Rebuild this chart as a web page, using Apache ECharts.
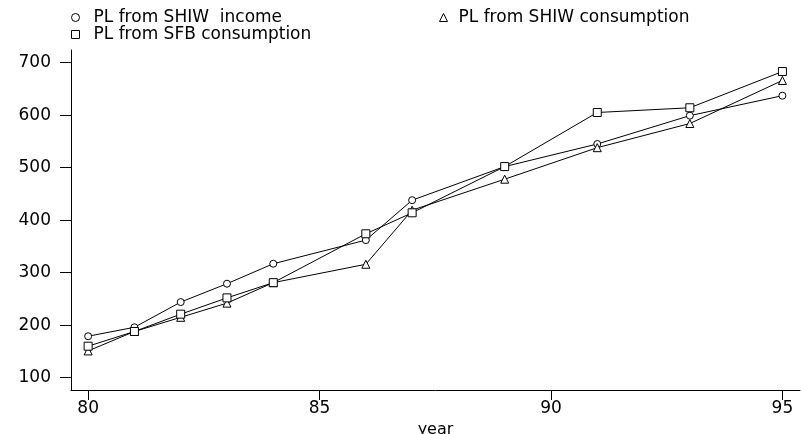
<!DOCTYPE html>
<html>
<head>
<meta charset="utf-8">
<script src="https://cdn.jsdelivr.net/npm/echarts@6/dist/echarts.min.js"></script>
<style>html,body{margin:0;padding:0;background:#fff}#c{width:801px;height:434px}</style>
</head>
<body>
<div id="c"></div>
<script>
var years = [80, 81, 82, 83, 84, 86, 87, 89, 91, 93, 95];
var shiwIncome = [179, 196, 244, 279, 317, 362, 438, 502, 545, 599, 637];
var sfbConsumption = [160, 188, 221, 252, 281, 374, 414, 502, 605, 614, 683];
var shiwConsumption = [151, 188, 215, 242, 281, 316, 419, 478, 538, 584, 666];
var xTicks = [80, 85, 90, 95];
var yTicks = [100, 200, 300, 400, 500, 600, 700];

function pairs(v) { return years.map(function (y, i) { return [y, v[i]]; }); }
var FONT = 'DejaVu Sans';
var chart = echarts.init(document.getElementById('c'));
var mk = { color: '#fff', borderColor: '#000', borderWidth: 1 };
chart.setOption({
  animation: false,
  backgroundColor: '#fff',
  textStyle: { fontFamily: FONT, color: '#000' },
  grid: { left: 71, right: 1, top: 50, bottom: 44, containLabel: false, outerBoundsMode: 'none' },
  legend: [{
    left: 71, top: 9, orient: 'vertical', padding: 0, itemGap: 0,
    itemWidth: 8, itemHeight: 8,
    textStyle: { fontFamily: FONT, fontSize: 17, lineHeight: 16, color: '#000', padding: [0, 0, 0, 9] },
    data: [
      { name: 'PL from SHIW  income', icon: 'circle', itemStyle: mk },
      { name: 'PL from SFB consumption', icon: 'rect', itemStyle: mk }
    ]
  }, {
    left: 439, top: 9, orient: 'vertical', padding: 0, itemGap: 0,
    itemWidth: 8, itemHeight: 8,
    textStyle: { fontFamily: FONT, fontSize: 17, lineHeight: 16, color: '#000', padding: [0, 0, 0, 6] },
    data: [
      { name: 'PL from SHIW consumption', icon: 'triangle', itemStyle: mk }
    ]
  }],
  xAxis: {
    type: 'value', min: 79.63, max: 95.38,
    name: 'year', nameLocation: 'middle', nameGap: 14,
    nameTextStyle: { fontFamily: FONT, fontSize: 16, color: '#000' },
    axisLine: { lineStyle: { color: '#000', width: 1 } },
    axisTick: { length: 10, lineStyle: { color: '#000' }, customValues: xTicks },
    axisLabel: { margin: 10, fontFamily: FONT, fontSize: 17, color: '#000', customValues: xTicks },
    splitLine: { show: false }
  },
  yAxis: {
    type: 'value', min: 76.6, max: 724,
    axisLine: { show: true, lineStyle: { color: '#000', width: 1 } },
    axisTick: { show: true, length: 11, lineStyle: { color: '#000' }, customValues: yTicks },
    axisLabel: { margin: 20, fontFamily: FONT, fontSize: 17, color: '#000', customValues: yTicks },
    splitLine: { show: false }
  },
  series: [{
    name: 'PL from SHIW  income', type: 'line', data: pairs(shiwIncome),
    symbol: 'circle', symbolSize: 7, showAllSymbol: true,
    lineStyle: { color: '#000', width: 1 }, itemStyle: mk, z: 3
  }, {
    name: 'PL from SHIW consumption', type: 'line', data: pairs(shiwConsumption),
    symbol: 'triangle', symbolSize: 8, showAllSymbol: true,
    lineStyle: { color: '#000', width: 1 }, itemStyle: mk, z: 3
  }, {
    name: 'PL from SFB consumption', type: 'line', data: pairs(sfbConsumption),
    symbol: 'rect', symbolSize: 8, showAllSymbol: true,
    lineStyle: { color: '#000', width: 1 }, itemStyle: mk, z: 3
  }]
});
</script>
</body>
</html>
